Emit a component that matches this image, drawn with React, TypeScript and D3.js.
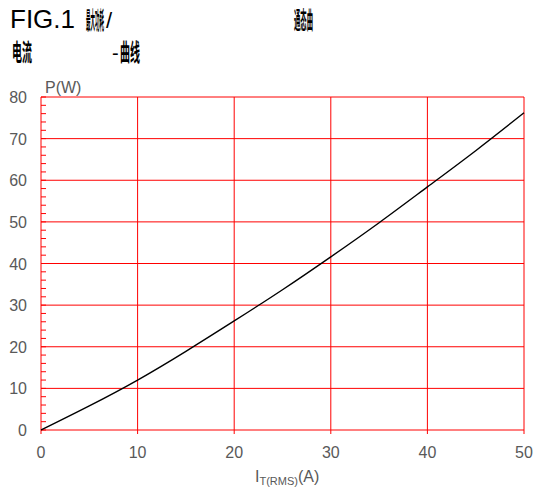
import React from "react";
import * as d3 from "d3";

const currentA = [0, 5, 10, 15, 20, 25, 30, 35, 40, 45, 50];
const powerW = [0, 5.8, 12, 18.9, 26.2, 33.7, 41.6, 49.8, 58.4, 67.1, 76.2];
const xTicks = [0, 10, 20, 30, 40, 50];
const yTicks = [0, 10, 20, 30, 40, 50, 60, 70, 80];
const yMinor = d3.range(0, 81, 2);

const W = 536, H = 489;
const left = 41, right = 524, top = 97, bottom = 430;

function Squeezed({ x, y, width, text }: { x: number; y: number; width: number; text: string }) {
  const fs = 24;
  const natural = fs * text.length;
  return (
    <text
      transform={`translate(${x},${y}) scale(${width / natural},1)`}
      fontSize={fs}
      fontFamily="'Noto Sans CJK SC', sans-serif"
      fontWeight="bold"
      fill="#000"
    >
      {text}
    </text>
  );
}

export default function App() {
  const x = d3.scaleLinear().domain([0, 50]).range([left, right]);
  const y = d3.scaleLinear().domain([0, 80]).range([bottom, top]);
  const line = d3
    .line<number>()
    .x((_, i) => x(currentA[i]))
    .y((d) => y(d))
    .curve(d3.curveNatural);
  const font = "Liberation Sans, Arial, sans-serif";
  const grey = "#595959";
  return (
    <svg width={W} height={H} style={{ position: "absolute", left: 0, top: 0 }} fontFamily={font}>
      <rect width={W} height={H} fill="#fff" />
      {/* title */}
      <text x={10} y={28} fontSize={26} fill="#000">FIG.1</text>
      <Squeezed x={86} y={29} width={18} text="最大功耗" />
      <text x={106} y={28} fontSize={22} fill="#000">/</text>
      <Squeezed x={294} y={29} width={19} text="通态曲" />
      <Squeezed x={12} y={61} width={20} text="电流" />
      <text x={112} y={60} fontSize={20} fill="#000">-</text>
      <Squeezed x={120} y={61} width={20} text="曲线" />
      {/* grid */}
      {yTicks.map((t) => (
        <line key={"h" + t} x1={left} x2={right} y1={y(t)} y2={y(t)} stroke="#ff0000" strokeWidth={1} />
      ))}
      {xTicks.map((t) => (
        <line key={"v" + t} x1={x(t)} x2={x(t)} y1={top} y2={bottom + 4} stroke="#ff0000" strokeWidth={1} />
      ))}
      {yMinor.map((t) => (
        <line key={"m" + t} x1={left} x2={left + 5} y1={y(t)} y2={y(t)} stroke="#ff0000" strokeWidth={1} />
      ))}
      {/* curve */}
      <path d={line(powerW) || ""} fill="none" stroke="#000" strokeWidth={1.4} />
      {/* labels */}
      {yTicks.map((t) => (
        <text key={"yl" + t} x={27} y={y(t) + 6} fontSize={16} textAnchor="end" fill={grey}>{t}</text>
      ))}
      {xTicks.map((t) => (
        <text key={"xl" + t} x={x(t)} y={458} fontSize={16} textAnchor="middle" fill={grey}>{t}</text>
      ))}
      <text x={45} y={93} fontSize={16} fill={grey}>P(W)</text>
      <text x={255} y={482} fontSize={16} fill={grey}>
        I<tspan fontSize={11} dy={3}>T(RMS)</tspan><tspan dy={-3}>(A)</tspan>
      </text>
    </svg>
  );
}
